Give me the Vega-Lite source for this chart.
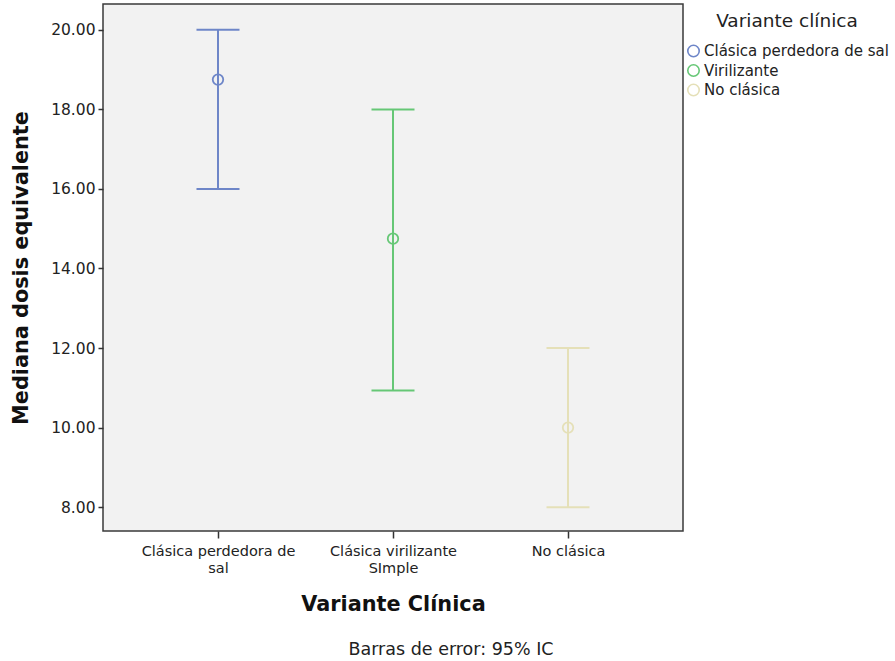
{
  "$schema": "https://vega.github.io/schema/vega-lite/v6.json",
  "width": 580,
  "height": 527,
  "autosize": {"type": "none"},
  "padding": {"left": 103, "top": 4, "right": 212, "bottom": 130},
  "background": "white",
  "config": {
    "font": "DejaVu Sans",
    "view": {"fill": "#f2f2f2", "stroke": "#3a3a3a", "strokeWidth": 1.5}
  },
  "title": {
    "text": "Barras de error: 95% IC",
    "orient": "bottom",
    "anchor": "middle",
    "dx": 58,
    "offset": 27,
    "fontSize": 17.5,
    "fontWeight": "normal",
    "color": "#222222"
  },
  "data": {
    "values": [
      {"grupo": "Clásica perdedora de sal", "variante": "Clásica perdedora de sal", "media": 18.75, "inferior": 16.0, "superior": 20.0},
      {"grupo": "Clásica virilizante SImple", "variante": "Virilizante", "media": 14.75, "inferior": 10.93, "superior": 18.0},
      {"grupo": "No clásica", "variante": "No clásica", "media": 10.0, "inferior": 8.0, "superior": 12.0}
    ]
  },
  "encoding": {
    "x": {
      "field": "grupo",
      "type": "nominal",
      "sort": null,
      "scale": {"type": "point", "padding": 0.657},
      "axis": {
        "title": "Variante Clínica",
        "titleFontSize": 20.8,
        "titleFontWeight": "bold",
        "titleColor": "#111111",
        "titlePadding": 20,
        "labelAngle": 0,
        "labelFontSize": 14.5,
        "labelColor": "#222222",
        "labelPadding": 6,
        "labelLineHeight": 17,
        "labelLimit": 300,
        "labelExpr": "datum.value == 'Clásica perdedora de sal' ? ['Clásica  perdedora de', 'sal'] : datum.value == 'Clásica virilizante SImple' ? ['Clásica virilizante', 'SImple'] : datum.value",
        "tickSize": 7,
        "tickColor": "#333333",
        "tickWidth": 1.5,
        "domain": false,
        "grid": false
      }
    },
    "color": {
      "field": "variante",
      "type": "nominal",
      "sort": null,
      "scale": {
        "domain": ["Clásica perdedora de sal", "Virilizante", "No clásica"],
        "range": ["#6e86c8", "#66c776", "#e5e0b8"]
      },
      "legend": {
        "title": "Variante clínica",
        "orient": "none",
        "legendX": 583,
        "legendY": 8,
        "padding": 0,
        "titleAnchor": "middle",
        "titleFontSize": 18.5,
        "titleFontWeight": "normal",
        "titleColor": "#222222",
        "titlePadding": 13,
        "labelFontSize": 15,
        "labelColor": "#222222",
        "labelOffset": 3,
        "labelLimit": 400,
        "rowPadding": 0.5,
        "symbolType": "circle",
        "symbolSize": 130,
        "symbolStrokeWidth": 1.6,
        "symbolOpacity": 1,
        "symbolFillColor": "transparent"
      }
    }
  },
  "layer": [
    {
      "mark": {"type": "rule", "strokeWidth": 2},
      "encoding": {
        "y": {
          "field": "inferior",
          "type": "quantitative",
          "scale": {"domain": [7.4, 20.65], "nice": false, "zero": false},
          "axis": {
            "title": "Mediana dosis equivalente",
            "titleFontSize": 20.8,
            "titleFontWeight": "bold",
            "titleColor": "#111111",
            "titlePadding": 19,
            "values": [8, 10, 12, 14, 16, 18, 20],
            "format": ".2f",
            "labelFontSize": 15.5,
            "labelColor": "#222222",
            "labelPadding": 3,
            "tickSize": 5,
            "tickColor": "#333333",
            "tickWidth": 1.5,
            "domain": false,
            "grid": false
          }
        },
        "y2": {"field": "superior"}
      }
    },
    {
      "mark": {"type": "rule", "strokeWidth": 2, "xOffset": -21.5, "x2Offset": 21.5},
      "encoding": {
        "x2": {"field": "grupo"},
        "y": {"field": "inferior", "type": "quantitative"}
      }
    },
    {
      "mark": {"type": "rule", "strokeWidth": 2, "xOffset": -21.5, "x2Offset": 21.5},
      "encoding": {
        "x2": {"field": "grupo"},
        "y": {"field": "superior", "type": "quantitative"}
      }
    },
    {
      "mark": {"type": "point", "shape": "circle", "filled": false, "size": 110, "strokeWidth": 1.8, "opacity": 1},
      "encoding": {"y": {"field": "media", "type": "quantitative"}}
    }
  ]
}
